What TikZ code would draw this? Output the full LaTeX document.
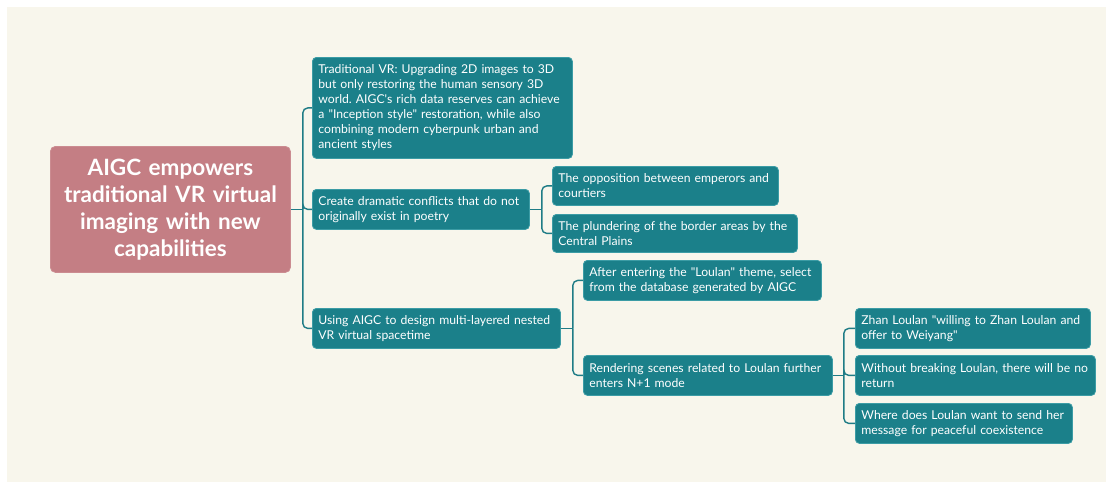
\documentclass[tikz,border=0pt]{standalone}
\usepackage{fontspec}
\setmainfont{Lato}
\newfontfamily\leaffont{Lato}
\usetikzlibrary{calc}
\frenchspacing
\definecolor{bgcream}{HTML}{F8F6EC}
\definecolor{tealfill}{HTML}{1B808A}
\definecolor{tealedge}{HTML}{3C9CA5}
\definecolor{tealline}{HTML}{1F7C86}
\definecolor{rootpink}{HTML}{C47E84}
\definecolor{rootedge}{HTML}{CB8C91}
\tikzset{
  leaf/.style={rectangle, rounded corners=4pt, fill=tealfill, draw=tealedge, line width=0.8pt,
    text=white, font=\leaffont\fontsize{12.2}{15}\selectfont, align=left,
    inner xsep=6pt, inner ysep=0pt, anchor=north west},
  rootbox/.style={rectangle, rounded corners=5pt, fill=rootpink, draw=rootedge, line width=0.8pt,
    text=white, font=\bfseries\fontsize{22.5}{27}\selectfont, align=center,
    inner xsep=3pt, inner ysep=0pt, anchor=north west},
  conn/.style={draw=tealline, line width=1.4pt, rounded corners=5pt}
}
\begin{document}
\begin{tikzpicture}[x=1pt,y=-1pt]
\useasboundingbox (0,0) rectangle (1106,482);
\fill[white] (0,0) rectangle (1106,482);
\fill[bgcream] (7,7) rectangle (1106,482);

\node[rootbox, text width=234, minimum height=126] (root) at (50,146)
  {AIGC empowers\\traditional VR virtual\\imaging with new\\capabilities};

\node[leaf, text width=248, minimum height=101] (A) at (312,57)
  {Traditional VR: Upgrading 2D images to 3D\\but only restoring the human sensory 3D\\world. AIGC's rich data reserves can achieve\\a "Inception style" restoration, while also\\combining modern cyberpunk urban and\\ancient styles};
\node[leaf, text width=205, minimum height=40] (B) at (312,189)
  {Create dramatic conflicts that do not\\originally exist in poetry};
\node[leaf, text width=236, minimum height=40] (C) at (312,308)
  {Using AIGC to design multi-layered nested\\VR virtual spacetime};

\node[leaf, text width=214, minimum height=39] (B1) at (552,166)
  {The opposition between emperors and\\courtiers};
\node[leaf, text width=233, minimum height=38] (B2) at (552,214)
  {The plundering of the border areas by the\\Central Plains};

\node[leaf, text width=226, minimum height=40] (C1) at (583,260)
  {After entering the "Loulan" theme, select\\from the database generated by AIGC};
\node[leaf, text width=237, minimum height=40] (C2) at (583,355)
  {Rendering scenes related to Loulan further\\enters N+1 mode};

\node[leaf, text width=223, minimum height=40] (D1) at (855,308)
  {Zhan Loulan "willing to Zhan Loulan and\\offer to Weiyang"};
\node[leaf, text width=228, minimum height=40] (D2) at (855,355)
  {Without breaking Loulan, there will be no\\return};
\node[leaf, text width=205, minimum height=40] (D3) at (855,403)
  {Where does Loulan want to send her\\message for peaceful coexistence};

% connectors
\path (root.east) ++(12,0) coordinate (j0);
\draw[conn] (root.east) -- (j0);
\draw[conn] (j0) |- (A.west);
\draw[conn] (j0) |- (B.west);
\draw[conn] (j0) |- (C.west);

\path (B.east) ++(12,0) coordinate (j1);
\draw[conn] (B.east) -- (j1);
\draw[conn] (j1) |- (B1.west);
\draw[conn] (j1) |- (B2.west);

\path (C.east) ++(12,0) coordinate (j2);
\draw[conn] (C.east) -- (j2);
\draw[conn] (j2) |- (C1.west);
\draw[conn] (j2) |- (C2.west);

\path (C2.east) ++(11,0) coordinate (j3);
\draw[conn] (C2.east) -- (j3);
\draw[conn] (j3) |- (D1.west);
\draw[conn] (j3) |- (D2.west);
\draw[conn] (j3) |- (D3.west);
\end{tikzpicture}
\end{document}
